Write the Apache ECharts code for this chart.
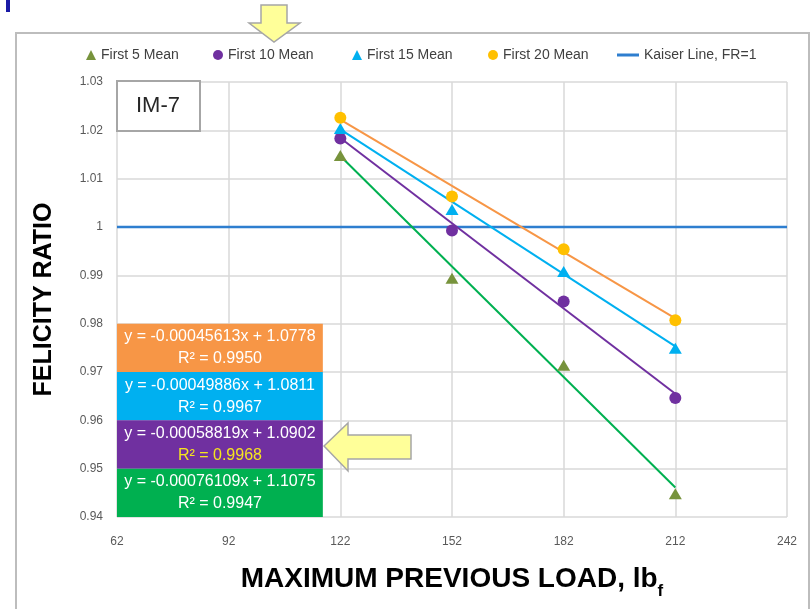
<!DOCTYPE html>
<html>
<head>
<meta charset="utf-8">
<title>Felicity ratio IM-7</title>
<script src="https://cdn.jsdelivr.net/npm/echarts@6/dist/echarts.min.js"></script>
<style>
  html, body { margin: 0; background: #fff; }
  #chart { width: 811px; height: 609px; }
</style>
</head>
<body>
<div id="chart"></div>
<script>
// data
const loads = [122, 152, 182, 212]
const first5 = [1.0148, 0.9894, 0.9714, 0.9448]
const first10 = [1.0183, 0.9993, 0.9846, 0.9646]
const first15 = [1.0204, 1.0036, 0.9908, 0.9749]
const first20 = [1.0226, 1.0063, 0.9954, 0.9807]

// trendline end points (x = 122 and x = 212)
const trendX = [122, 212]
const trend5 = [1.0147, 0.9461]
const trend10 = [1.0184, 0.9655]
const trend15 = [1.0202, 0.9753]
const trend20 = [1.0222, 0.9811]

const kaiserX = [62, 242]
const kaiserY = [1, 1]

const xTicks = [62, 92, 122, 152, 182, 212, 242]
const yTicks = [0.94, 0.95, 0.96, 0.97, 0.98, 0.99, 1, 1.01, 1.02, 1.03]

// equation boxes: text lines, band of y they fill, colour
const eqLines = ['y = -0.00045613x + 1.0778', 'y = -0.00049886x + 1.0811', 'y = -0.00058819x + 1.0902', 'y = -0.00076109x + 1.1075']
const eqR2 = ['R² = 0.9950', 'R² = 0.9967', 'R² = 0.9968', 'R² = 0.9947']
const eqBands = [[0.97, 0.98], [0.96, 0.97], [0.95, 0.96], [0.94, 0.95]]
const eqColors = ['#F79646', '#00B0F0', '#7030A0', '#00B050']
const eqBoxRight = 117.3

const FONT = 'Liberation Sans'
const pts = ys => loads.map((x, i) => [x, ys[i]])
const seg = ys => trendX.map((x, i) => [x, ys[i]])

const chart = echarts.init(document.getElementById('chart'))

const legendBase = {
  top: 48, itemWidth: 10, itemHeight: 10, padding: 0,
  textStyle: { fontFamily: FONT, fontSize: 14, color: '#404040' }
}

const eqAreas = eqLines.map((t, i) => [
  {
    xAxis: xTicks[0], yAxis: eqBands[i][1],
    itemStyle: { color: eqColors[i] },
    label: {
      formatter: i === 2 ? '{a|' + t + '}\n{y|' + eqR2[i] + '}' : '{a|' + t + '}\n{a|' + eqR2[i] + '}'
    }
  },
  { xAxis: eqBoxRight, yAxis: eqBands[i][0] }
])

function trend(name, ys, color) {
  return {
    name, type: 'line', data: seg(ys), symbol: 'none', z: 3,
    lineStyle: { color, width: 2 }, itemStyle: { color }
  }
}

function points(name, ys, symbol, color) {
  return {
    name, type: 'scatter', data: pts(ys), symbol, z: 5,
    symbolSize: symbol === 'triangle' ? [13, 11] : 12,
    itemStyle: { color, opacity: 1 }
  }
}

chart.setOption({
  animation: false,
  backgroundColor: '#fff',
  grid: { left: 117, right: 24, top: 82, bottom: 92 },
  legend: [
    { ...legendBase, left: 86, data: ['First 5 Mean'] },
    { ...legendBase, left: 213, data: ['First 10 Mean'] },
    { ...legendBase, left: 352, data: ['First 15 Mean'] },
    { ...legendBase, left: 488, data: ['First 20 Mean'] },
    { ...legendBase, left: 617, itemWidth: 22, itemHeight: 3, data: [{ name: 'Kaiser Line, FR=1', icon: 'rect' }] }
  ],
  xAxis: {
    type: 'value', min: xTicks[0], max: xTicks[xTicks.length - 1], interval: 30,
    axisLine: { show: false }, axisTick: { show: false },
    splitLine: { lineStyle: { color: '#D9D9D9', width: 1.5 } },
    axisLabel: { fontFamily: FONT, fontSize: 12, color: '#595959', margin: 19 },
    name: '{m|MAXIMUM PREVIOUS LOAD, lb}{s|f}',
    nameLocation: 'middle', nameGap: 41,
    nameTextStyle: {
      rich: {
        m: { fontFamily: FONT, fontWeight: 'bold', fontSize: 28, color: '#000', lineHeight: 34, verticalAlign: 'middle' },
        s: { fontFamily: FONT, fontWeight: 'bold', fontSize: 17, color: '#000', lineHeight: 42, verticalAlign: 'bottom' }
      }
    }
  },
  yAxis: {
    type: 'value', min: yTicks[0], max: yTicks[yTicks.length - 1], interval: 0.01,
    axisLine: { show: false }, axisTick: { show: false },
    splitLine: { lineStyle: { color: '#D9D9D9', width: 1.5 } },
    axisLabel: {
      fontFamily: FONT, fontSize: 12, color: '#595959', margin: 14,
      formatter: v => String(parseFloat(v.toFixed(2)))
    },
    name: 'FELICITY RATIO', nameLocation: 'middle', nameGap: 60,
    nameTextStyle: { fontFamily: FONT, fontWeight: 'bold', fontSize: 25, color: '#000' }
  },
  series: [
    {
      name: 'Kaiser Line, FR=1', type: 'line', data: kaiserX.map((x, i) => [x, kaiserY[i]]),
      symbol: 'none', z: 2,
      lineStyle: { color: '#2E7ECF', width: 2.5 }, itemStyle: { color: '#2E7ECF' },
      markArea: {
        silent: true,
        label: {
          show: true, position: 'inside',
          rich: {
            a: { fontFamily: FONT, fontSize: 16, color: '#fff', lineHeight: 22 },
            y: { fontFamily: FONT, fontSize: 16, color: '#F5E51E', lineHeight: 22 }
          }
        },
        data: eqAreas
      }
    },
    trend('trend20', trend20, '#F79646'),
    trend('trend15', trend15, '#00B0F0'),
    trend('trend10', trend10, '#7030A0'),
    trend('trend5', trend5, '#00B050'),
    points('First 5 Mean', first5, 'triangle', '#77933C'),
    points('First 10 Mean', first10, 'circle', '#7030A0'),
    points('First 15 Mean', first15, 'triangle', '#00B0F0'),
    points('First 20 Mean', first20, 'circle', '#FFC000')
  ],
  graphic: [
    // outer frame of the slide chart
    { type: 'rect', shape: { x: 16, y: 33, width: 793, height: 600 }, style: { fill: 'none', stroke: '#BDBDBD', lineWidth: 2 }, silent: true },
    { type: 'rect', shape: { x: 6, y: 0, width: 4, height: 12 }, style: { fill: '#1A1AA6' }, silent: true },
    // IM-7 tag
    { type: 'rect', shape: { x: 117, y: 81, width: 83, height: 50 }, style: { fill: '#fff', stroke: '#A6A6A6', lineWidth: 2 }, z: 10, silent: true },
    {
      type: 'text', x: 158, y: 106, z: 11, silent: true,
      style: { text: 'IM-7', fontFamily: FONT, fontSize: 22, fill: '#262626', align: 'center', verticalAlign: 'middle' }
    },
    // yellow arrows
    {
      type: 'polygon', z: 10, silent: true,
      shape: { points: [[261, 5], [287, 5], [287, 23], [300, 23], [274, 42], [249, 23], [261, 23]] },
      style: { fill: '#FFFF99', stroke: '#A6A6A6', lineWidth: 1.5 }
    },
    {
      type: 'polygon', z: 10, silent: true,
      shape: { points: [[324, 446], [348, 423], [348, 435], [411, 435], [411, 459], [348, 459], [348, 471]] },
      style: { fill: '#FFFF99', stroke: '#A6A6A6', lineWidth: 1.5 }
    }
  ]
})
</script>
</body>
</html>
